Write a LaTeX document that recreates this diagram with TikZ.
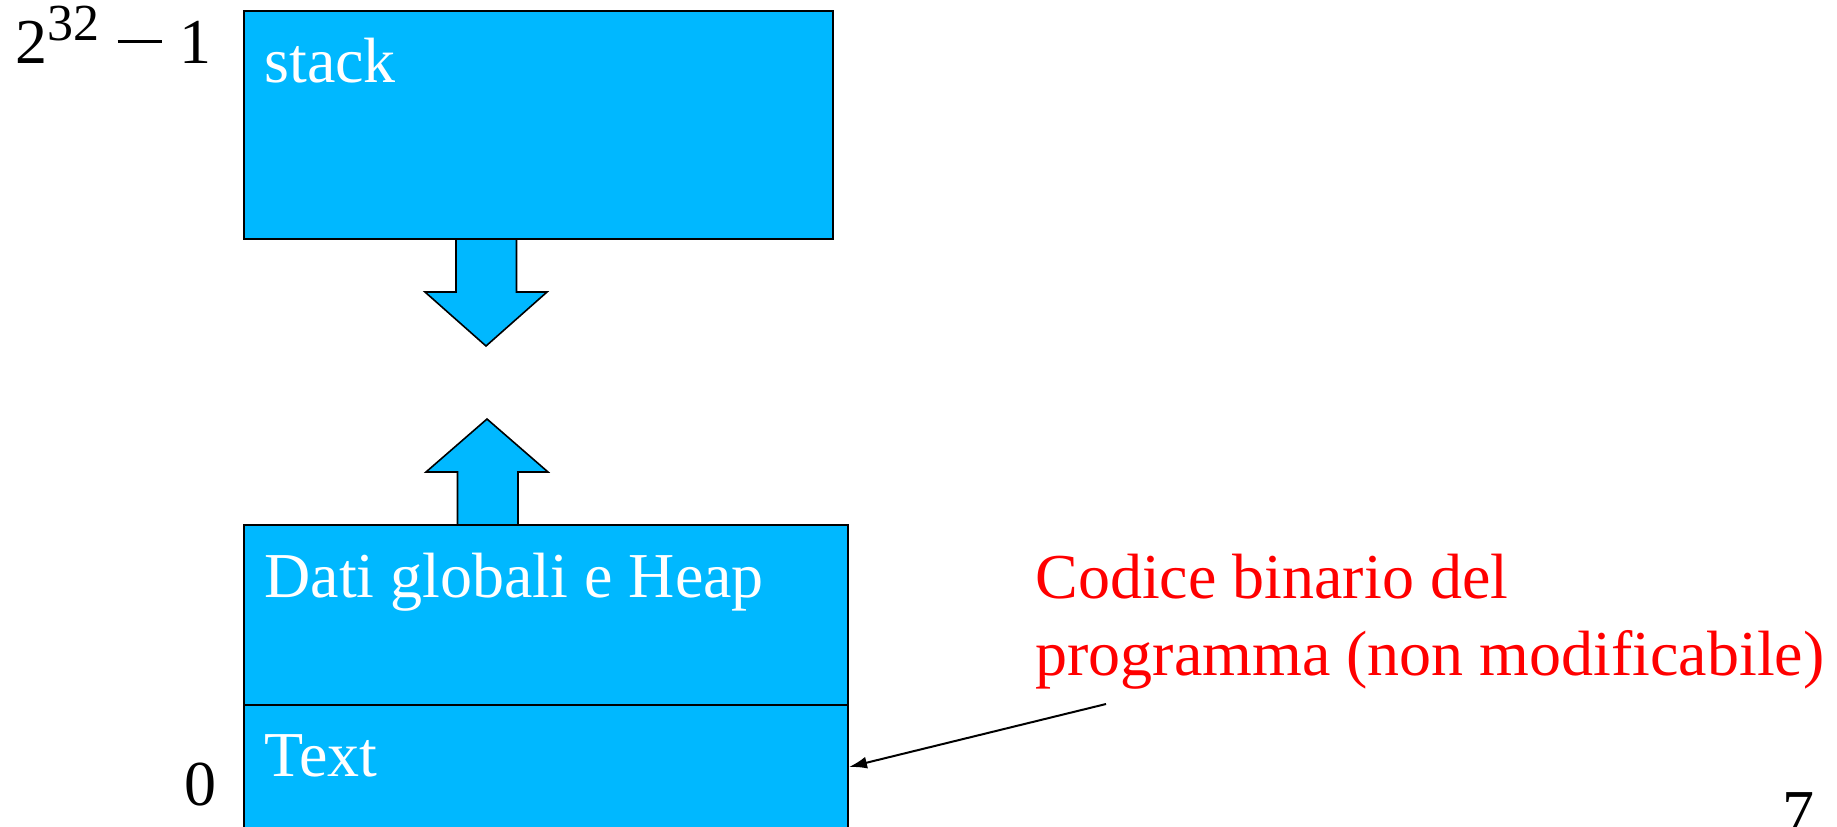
\documentclass[tikz,border=0pt]{standalone}
\usepackage{fontspec}
\setmainfont{Liberation Serif}
\usetikzlibrary{positioning, arrows.meta}
\definecolor{memblue}{RGB}{0,184,255}
\tikzset{
        segment/.style={draw=black, fill=memblue, line width=0.8pt, inner sep=0pt, outer sep=0pt, anchor=north west},
        seglabel/.style={text=white, anchor=base west, inner sep=0pt, font=\fontsize{32}{38}\selectfont},
        addr/.style={anchor=base east, inner sep=0pt, font=\fontsize{32}{38}\selectfont},
        growth/.style={draw=black, fill=memblue, line width=0.8pt, line join=miter},
        note/.style={text=red, anchor=base west, align=left, inner sep=0pt, font=\fontsize{32}{38.5}\selectfont},
        pointer/.style={-{Latex[length=9pt, width=6pt]}, line width=1pt}
        }
\newcommand{\topaddr}{2\raisebox{11.5pt}{\fontsize{26}{30}\selectfont 32}\hspace{9pt}\rule[10pt]{22pt}{1.3pt}\hspace{9pt}1}
\begin{document}
\begin{tikzpicture}[x=0.5pt, y=-0.5pt]
        \useasboundingbox (0,0) rectangle (1837,826);
        % memory segments
        \node[segment, minimum width=294.5pt, minimum height=114pt](stack) at (244,11){};
        \node[segment, minimum width=302pt, minimum height=90pt](heap) at (244,525){};
        \node[segment, minimum width=302pt, minimum height=80pt](text) at (heap.south west){};
        \node[seglabel] at (264,82)(lstack){stack};
        \node[seglabel] at (264,597)(lheap){Dati globali e Heap};
        \node[seglabel] at (264,776)(ltext){Text};
        % addresses
        \node[addr] at (212,63)(top){\topaddr};
        \node[addr] at (217,805)(bottom){0};
        % growth arrows
        \draw[growth] (456,239) -- (456,292) -- (425,292) -- (486,346) -- (547,292) -- (516.5,292) -- (516.5,239) -- cycle;
        \draw[growth] (457.5,525) -- (457.5,472) -- (426,472) -- (487,419) -- (548,472) -- (518,472) -- (518,525) -- cycle;
        % note on the text segment (base = last line)
        \node[note] at (1035,675)(code){Codice binario del\\programma (non modificabile)};
        \coordinate (foot) at (1106,704);
        \coordinate (hit) at (849,767);
        \draw[pointer] (foot) -- (hit);
        \node[anchor=north west, inner sep=0pt, font=\fontsize{32}{38}\selectfont] at (1782,792)(page){7};
\end{tikzpicture}
\end{document}
